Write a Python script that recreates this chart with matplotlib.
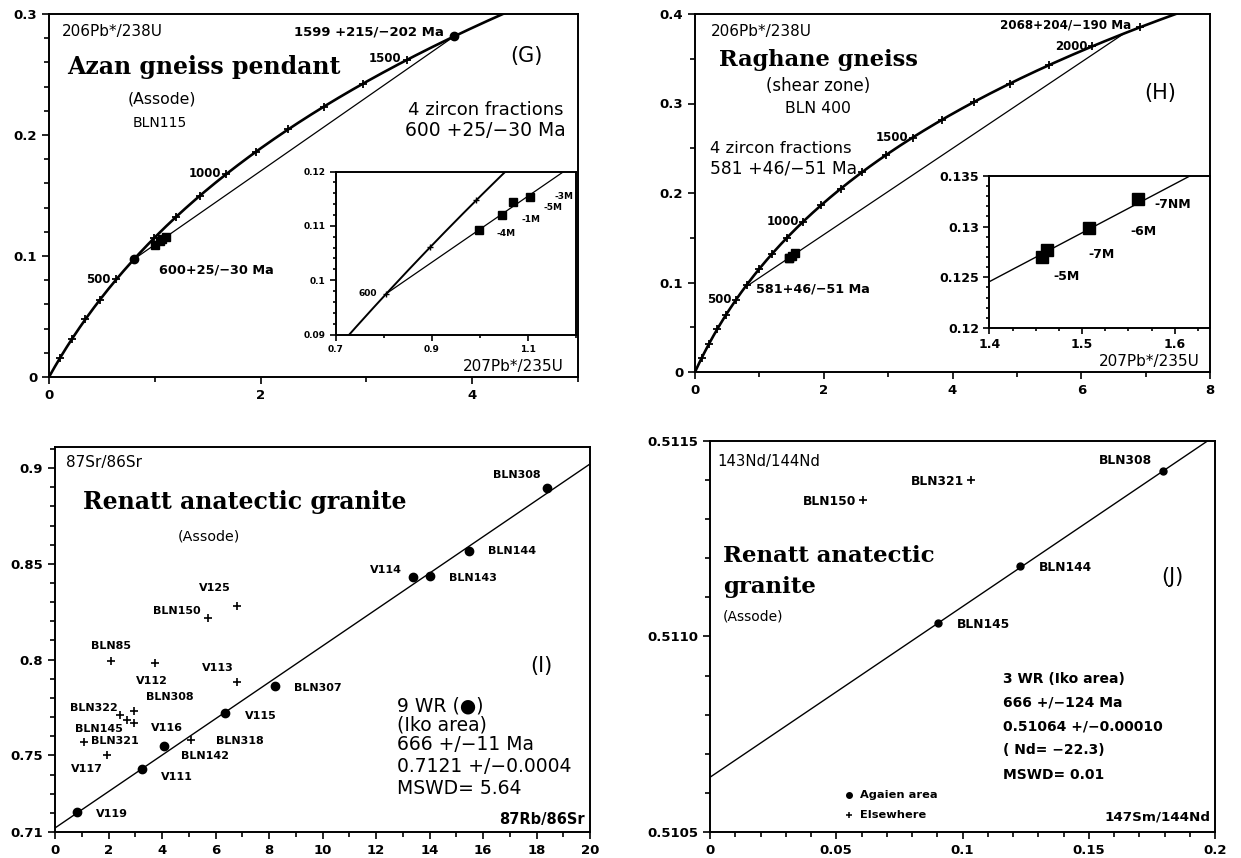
import numpy as np
import matplotlib
matplotlib.use("Agg")
import matplotlib.pyplot as plt
from matplotlib.ticker import MultipleLocator, FixedLocator, FixedFormatter

plt.rcParams['font.family'] = ['DejaVu Sans']
plt.rcParams['axes.linewidth'] = 1.4

# ---------------- data ----------------
# decay constants (per year)
LAMBDA_238 = 1.55125e-10
LAMBDA_235 = 9.8485e-10
LAMBDA_RB = 1.42e-11
LAMBDA_SM = 6.54e-12

# panel G (Azan gneiss pendant)
G_tick_ages = [100, 200, 300, 400, 500, 600, 700, 800, 900, 1000, 1100, 1200, 1300, 1400, 1500, 1600]
G_lower_age = 600
G_upper_age = 1599
G_x = [0.998, 1.047, 1.069, 1.104]
G_y = [0.1093, 0.1120, 0.1144, 0.1154]
G_labels = ["-4M", "-1M", "-5M", "-3M"]
G_inset_ticks = [600, 650, 700]

# panel H (Raghane gneiss)
H_tick_ages = [100, 200, 300, 400, 500, 600, 700, 800, 900, 1000, 1100, 1200, 1300, 1400, 1500,
               1600, 1700, 1800, 1900, 2000, 2100]
H_lower_age = 581
H_upper_age = 2068
H_x = [1.4566, 1.4617, 1.5077, 1.5604]
H_y = [0.1270, 0.1277, 0.1299, 0.1327]
H_labels = ["-5M", "-7M", "-6M", "-7NM"]

# panel I (Rb-Sr)
I_wr_names = ["V119", "V111", "BLN142", "V115", "BLN307", "V114", "BLN143", "BLN144", "BLN308"]
I_wr_x = [0.82, 3.25, 4.07, 6.37, 8.21, 13.38, 14.00, 15.46, 18.38]
I_wr_y = [0.7207, 0.7431, 0.7549, 0.7721, 0.7864, 0.8429, 0.8438, 0.8569, 0.8897]
I_other_names = ["BLN85", "V112", "V125", "BLN150", "V113", "BLN322", "BLN308", "BLN145", "V116",
                 "BLN321", "V117", "BLN318"]
I_other_x = [2.10, 3.72, 6.82, 5.72, 6.79, 2.44, 2.97, 2.71, 2.97, 1.09, 1.95, 5.09]
I_other_y = [0.7993, 0.7980, 0.8279, 0.8218, 0.7885, 0.7712, 0.7731, 0.7686, 0.7671, 0.7568, 0.7502, 0.7581]
I_age = 666
I_initial = 0.7121

# panel J (Sm-Nd)
J_wr_names = ["BLN145", "BLN144", "BLN308"]
J_wr_x = [0.0901, 0.1226, 0.1795]
J_wr_y = [0.511034, 0.511180, 0.511424]
J_other_names = ["BLN150", "BLN321"]
J_other_x = [0.0606, 0.1033]
J_other_y = [0.511349, 0.511400]
J_age = 666
J_initial = 0.51064

# ---------------- helpers ----------------
def conc(age_ma):
    t = np.asarray(age_ma, dtype=float) * 1e6
    return np.exp(LAMBDA_235 * t) - 1, np.exp(LAMBDA_238 * t) - 1

W, H = 1241, 858
fig = plt.figure(figsize=(W / 100, H / 100), dpi=100)

def ax_px(l, r, t, b):
    return fig.add_axes([l / W, 1 - b / H, (r - l) / W, (b - t) / H])

LAB = dict(fontsize=8, fontweight='bold')
TICKLAB = 9.5

def style(ax, size=TICKLAB):
    ax.tick_params(which='both', direction='out', width=1.2, labelsize=size)
    ax.tick_params(which='major', length=5)
    ax.tick_params(which='minor', length=3.5)
    for lab in ax.get_xticklabels() + ax.get_yticklabels():
        lab.set_fontweight('bold')

def serif(size):
    return dict(family=['DejaVu Serif'], fontweight='bold', fontsize=size)

def conc_panel(ax, tick_ages, lower, upper, xs, ys, tmax):
    ages = np.linspace(0, tmax, 500)
    cx, cy = conc(ages)
    ax.plot(cx, cy, color='black', lw=1.9, zorder=3)
    tx, ty = conc(tick_ages)
    ax.plot(tx, ty, ls='none', marker='+', ms=6, mew=1.3, color='black', zorder=4)
    lx, ly = conc([lower, upper])
    ax.plot(lx, ly, color='black', lw=0.9, zorder=2)
    ax.plot(xs, ys, ls='none', marker='s', ms=6, color='black', zorder=5)
    return lx, ly

# ================= Panel G =================
axG = ax_px(49, 578, 14, 377)
axG.set_xlim(0, 5)
axG.set_ylim(0, 0.3)
lx, ly = conc_panel(axG, G_tick_ages, G_lower_age, G_upper_age, G_x, G_y, 1800)
axG.plot(lx, ly, ls='none', marker='o', ms=6, color='black', zorder=5)
axG.xaxis.set_major_locator(FixedLocator([0, 2, 4]))
axG.xaxis.set_major_formatter(FixedFormatter(["0", "2", "4"]))
axG.xaxis.set_minor_locator(MultipleLocator(1))
axG.yaxis.set_major_locator(FixedLocator([0, 0.1, 0.2, 0.3]))
axG.yaxis.set_major_formatter(FixedFormatter(["0", "0.1", "0.2", "0.3"]))
axG.yaxis.set_minor_locator(MultipleLocator(0.02))
style(axG)
axG.text(0.024, 0.951, "206Pb*/238U", transform=axG.transAxes, fontsize=11, va='center')
axG.text(0.035, 0.855, "Azan gneiss pendant", transform=axG.transAxes, va='center', **serif(17))
axG.text(0.214, 0.765, "(Assode)", transform=axG.transAxes, fontsize=11.3, ha='center', va='center')
axG.text(0.210, 0.700, "BLN115", transform=axG.transAxes, fontsize=10, ha='center', va='center')
axG.text(0.903, 0.883, "(G)", transform=axG.transAxes, fontsize=15, ha='center', va='center')
axG.text(0.825, 0.736, "4 zircon fractions", transform=axG.transAxes, fontsize=13, ha='center', va='center')
axG.text(0.825, 0.678, "600 +25/\u221230 Ma", transform=axG.transAxes, fontsize=13.5, ha='center', va='center')
axG.text(0.605, 0.951, "1599 +215/\u2212202 Ma", transform=axG.transAxes, ha='center', va='center',
         fontsize=9.5, fontweight='bold')
axG.text(0.974, 0.03, "207Pb*/235U", transform=axG.transAxes, fontsize=11, ha='right', va='center')
for age, dx, dy in [(500, -4, 0), (1000, -4, 0), (1500, -4, 1)]:
    px, py = conc(age)
    axG.annotate(str(age), (px, py), xytext=(dx, dy), textcoords='offset points',
                 ha='right', va='center', fontsize=8.5, fontweight='bold')
axG.annotate("600+25/\u221230 Ma", conc(G_lower_age), xytext=(18, -8), textcoords='offset points',
             ha='left', va='center', fontsize=9.3, fontweight='bold')

# inset G
inG = axG.inset_axes([0.542, 0.117, 0.454, 0.449])
inG.set_xlim(0.7, 1.2)
inG.set_ylim(0.09, 0.12)
ages = np.linspace(500, 800, 300)
cx, cy = conc(ages)
inG.plot(cx, cy, color='black', lw=1.4)
tx, ty = conc(G_inset_ticks)
inG.plot(tx, ty, ls='none', marker='+', ms=4, mew=1, color='black')
lxi, lyi = conc([G_lower_age, G_upper_age])
inG.plot(lxi, lyi, color='black', lw=0.9)
inG.plot(G_x, G_y, ls='none', marker='s', ms=6, color='black')
offs = [(13, -3), (14, -3), (22, -4), (18, 0)]
for x, y, name, (dx, dy) in zip(G_x, G_y, G_labels, offs):
    inG.annotate(name, (x, y), xytext=(dx, dy), textcoords='offset points',
                 ha='left', va='center', fontsize=6.5, fontweight='bold')
inG.annotate("600", conc(G_lower_age), xytext=(-7, 0), textcoords='offset points',
             ha='right', va='center', fontsize=6.5, fontweight='bold')
inG.xaxis.set_major_locator(FixedLocator([0.7, 0.9, 1.1]))
inG.xaxis.set_major_formatter(FixedFormatter(["0.7", "0.9", "1.1"]))
inG.xaxis.set_minor_locator(MultipleLocator(0.1))
inG.yaxis.set_major_locator(FixedLocator([0.09, 0.1, 0.11, 0.12]))
inG.yaxis.set_major_formatter(FixedFormatter(["0.09", "0.1", "0.11", "0.12"]))
inG.yaxis.set_minor_locator(MultipleLocator(0.002))
style(inG, size=6.5)
inG.tick_params(which='major', length=4)
inG.tick_params(which='minor', length=2)

# ================= Panel H =================
axH = ax_px(695, 1210, 14, 372)
axH.set_xlim(0, 8)
axH.set_ylim(0, 0.4)
conc_panel(axH, H_tick_ages, H_lower_age, H_upper_age, H_x, H_y, 2300)
axH.xaxis.set_major_locator(FixedLocator([0, 2, 4, 6, 8]))
axH.xaxis.set_major_formatter(FixedFormatter(["0", "2", "4", "6", "8"]))
axH.xaxis.set_minor_locator(MultipleLocator(1))
axH.yaxis.set_major_locator(FixedLocator([0, 0.1, 0.2, 0.3, 0.4]))
axH.yaxis.set_major_formatter(FixedFormatter(["0", "0.1", "0.2", "0.3", "0.4"]))
axH.yaxis.set_minor_locator(MultipleLocator(0.05))
style(axH)
axH.text(0.128, 0.951, "206Pb*/238U", transform=axH.transAxes, fontsize=11, ha='center', va='center')
axH.text(0.239, 0.872, "Raghane gneiss", transform=axH.transAxes, ha='center', va='center', **serif(16.2))
axH.text(0.239, 0.799, "(shear zone)", transform=axH.transAxes, fontsize=12, ha='center', va='center')
axH.text(0.239, 0.737, "BLN 400", transform=axH.transAxes, fontsize=11.3, ha='center', va='center')
axH.text(0.03, 0.625, "4 zircon fractions", transform=axH.transAxes, fontsize=11.8, ha='left', va='center')
axH.text(0.03, 0.569, "581 +46/\u221251 Ma", transform=axH.transAxes, fontsize=12.3, ha='left', va='center')
axH.text(0.904, 0.78, "(H)", transform=axH.transAxes, fontsize=15, ha='center', va='center')
axH.text(0.72, 0.97, "2068+204/\u2212190 Ma", transform=axH.transAxes, ha='center', va='center',
         fontsize=8.6, fontweight='bold')
axH.text(0.981, 0.03, "207Pb*/235U", transform=axH.transAxes, fontsize=11, ha='right', va='center')
for age in [500, 1000, 1500, 2000]:
    px, py = conc(age)
    axH.annotate(str(age), (px, py), xytext=(-3, 0), textcoords='offset points',
                 ha='right', va='center', fontsize=8.5, fontweight='bold')
axH.annotate("581+46/\u221251 Ma", conc(H_lower_age), xytext=(8, -1), textcoords='offset points',
             ha='left', va='center', fontsize=9.2, fontweight='bold')

inH = axH.inset_axes([0.5715, 0.123, 0.4285, 0.425])
inH.set_xlim(1.4, 1.638)
inH.set_ylim(0.12, 0.135)
lxi, lyi = conc([H_lower_age, H_upper_age])
inH.plot(lxi, lyi, color='black', lw=1.0)
inH.plot(H_x, H_y, ls='none', marker='s', ms=8, color='black')
offs = [(8, -14), (30, -3), (30, -3), (12, -4)]
for x, y, name, (dx, dy) in zip(H_x, H_y, H_labels, offs):
    inH.annotate(name, (x, y), xytext=(dx, dy), textcoords='offset points',
                 ha='left', va='center', fontsize=9, fontweight='bold')
inH.xaxis.set_major_locator(FixedLocator([1.4, 1.5, 1.6]))
inH.xaxis.set_major_formatter(FixedFormatter(["1.4", "1.5", "1.6"]))
inH.xaxis.set_minor_locator(MultipleLocator(0.025))
inH.yaxis.set_major_locator(FixedLocator([0.12, 0.125, 0.13, 0.135]))
inH.yaxis.set_major_formatter(FixedFormatter(["0.12", "0.125", "0.13", "0.135"]))
inH.yaxis.set_minor_locator(MultipleLocator(0.001))
style(inH, size=9)
inH.tick_params(which='major', length=4)
inH.tick_params(which='minor', length=2)

# ================= Panel I =================
axI = ax_px(55, 590, 447, 832)
axI.set_xlim(0, 20)
axI.set_ylim(0.71, 0.911)
slopeI = np.exp(LAMBDA_RB * I_age * 1e6) - 1
xl = np.array([0, 20])
axI.plot(xl, I_initial + slopeI * xl, color='black', lw=1.0)
axI.plot(I_wr_x, I_wr_y, ls='none', marker='o', ms=6, color='black')
axI.plot(I_other_x, I_other_y, ls='none', marker='+', ms=6, mew=1.2, color='black')
I_wr_off = {"V119": (14, -2, 'left'), "V111": (14, -6, 'left'), "BLN142": (12, -7, 'left'),
            "V115": (14, -2, 'left'), "BLN307": (14, -2, 'left'), "V114": (-8, 5, 'right'),
            "BLN143": (14, -2, 'left'), "BLN144": (14, 0, 'left'), "BLN308": (-4, 9, 'right')}
for x, y, n in zip(I_wr_x, I_wr_y, I_wr_names):
    dx, dy, ha = I_wr_off[n]
    axI.annotate(n, (x, y), xytext=(dx, dy), textcoords='offset points', ha=ha, va='center', **LAB)
I_ot_off = {"BLN85": (0, 11, 'center'), "V112": (-2, -13, 'center'), "V125": (-5, 13, 'right'),
            "BLN150": (-5, 5, 'right'), "V113": (-2, 10, 'right'), "BLN322": (-2, 5, 'right'),
            "BLN308": (8, 10, 'left'), "BLN145": (-3, -7, 'right'), "V116": (12, -4, 'left'),
            "BLN321": (5, 1, 'left'), "V117": (-3, -10, 'right'), "BLN318": (18, -1, 'left')}
for x, y, n in zip(I_other_x, I_other_y, I_other_names):
    dx, dy, ha = I_ot_off[n]
    axI.annotate(n, (x, y), xytext=(dx, dy), textcoords='offset points', ha=ha, va='center', **LAB)
axI.xaxis.set_major_locator(MultipleLocator(2))
axI.xaxis.set_minor_locator(MultipleLocator(1))
axI.yaxis.set_major_locator(FixedLocator([0.71, 0.75, 0.8, 0.85, 0.9]))
axI.yaxis.set_major_formatter(FixedFormatter(["0.71", "0.75", "0.8", "0.85", "0.9"]))
axI.yaxis.set_minor_locator(MultipleLocator(0.01))
style(axI)
axI.text(0.02, 0.96, "87Sr/86Sr", transform=axI.transAxes, fontsize=11, ha='left', va='center')
axI.text(0.052, 0.858, "Renatt anatectic granite", transform=axI.transAxes, ha='left', va='center', **serif(17))
axI.text(0.288, 0.768, "(Assode)", transform=axI.transAxes, fontsize=10.3, ha='center', va='center')
axI.text(0.91, 0.432, "(I)", transform=axI.transAxes, fontsize=15, ha='center', va='center')
for yy, s in [(0.328, "9 WR (\u25CF)"), (0.277, "(Iko area)"), (0.226, "666 +/\u221211 Ma"),
              (0.17, "0.7121 +/\u22120.0004"), (0.114, "MSWD= 5.64")]:
    axI.text(0.64, yy, s, transform=axI.transAxes, fontsize=13.5, ha='left', va='center')
axI.text(0.99, 0.033, "87Rb/86Sr", transform=axI.transAxes, fontsize=10.5, fontweight='bold',
         ha='right', va='center')

# ================= Panel J =================
axJ = ax_px(710, 1215, 441, 832)
axJ.set_xlim(0, 0.2)
axJ.set_ylim(0.5105, 0.5115)
slopeJ = np.exp(LAMBDA_SM * J_age * 1e6) - 1
xl = np.array([0, 0.2])
axJ.plot(xl, J_initial + slopeJ * xl, color='black', lw=1.0)
axJ.plot(J_wr_x, J_wr_y, ls='none', marker='o', ms=5, color='black')
axJ.plot(J_other_x, J_other_y, ls='none', marker='+', ms=6, mew=1.2, color='black')
J_wr_off = {"BLN145": (14, -1, 'left'), "BLN144": (14, -1, 'left'), "BLN308": (-8, 7, 'right')}
for x, y, n in zip(J_wr_x, J_wr_y, J_wr_names):
    dx, dy, ha = J_wr_off[n]
    axJ.annotate(n, (x, y), xytext=(dx, dy), textcoords='offset points', ha=ha, va='center',
                 fontsize=8.8, fontweight='bold')
for x, y, n in zip(J_other_x, J_other_y, J_other_names):
    axJ.annotate(n, (x, y), xytext=(-5, -1), textcoords='offset points', ha='right', va='center',
                 fontsize=8.8, fontweight='bold')
axJ.xaxis.set_major_locator(FixedLocator([0, 0.05, 0.1, 0.15, 0.2]))
axJ.xaxis.set_major_formatter(FixedFormatter(["0", "0.05", "0.1", "0.15", "0.2"]))
axJ.xaxis.set_minor_locator(MultipleLocator(0.01))
axJ.yaxis.set_major_locator(FixedLocator([0.5105, 0.5110, 0.5115]))
axJ.yaxis.set_major_formatter(FixedFormatter(["0.5105", "0.5110", "0.5115"]))
axJ.yaxis.set_minor_locator(MultipleLocator(0.0001))
style(axJ)
axJ.text(0.015, 0.947, "143Nd/144Nd", transform=axJ.transAxes, fontsize=10.7, ha='left', va='center')
axJ.text(0.025, 0.705, "Renatt anatectic", transform=axJ.transAxes, ha='left', va='center', **serif(16.5))
axJ.text(0.025, 0.626, "granite", transform=axJ.transAxes, ha='left', va='center', **serif(16.5))
axJ.text(0.025, 0.551, "(Assode)", transform=axJ.transAxes, fontsize=10, ha='left', va='center')
axJ.text(0.915, 0.651, "(J)", transform=axJ.transAxes, fontsize=15, ha='center', va='center')
for yy, s in [(0.391, "3 WR (Iko area)"), (0.33, "666 +/\u2212124 Ma"), (0.269, "0.51064 +/\u22120.00010"),
              (0.209, "( Nd= \u221222.3)"), (0.146, "MSWD= 0.01")]:
    axJ.text(0.58, yy, s, transform=axJ.transAxes, fontsize=10, fontweight='bold', ha='left', va='center')
axJ.plot([0.275], [0.095], transform=axJ.transAxes, marker='o', ms=4, color='black', ls='none')
axJ.plot([0.275], [0.044], transform=axJ.transAxes, marker='+', ms=5, mew=1.1, color='black', ls='none')
axJ.text(0.298, 0.095, "Agaien area", transform=axJ.transAxes, fontsize=8.2, fontweight='bold', ha='left', va='center')
axJ.text(0.298, 0.044, "Elsewhere", transform=axJ.transAxes, fontsize=8.2, fontweight='bold', ha='left', va='center')
axJ.text(0.99, 0.039, "147Sm/144Nd", transform=axJ.transAxes, fontsize=9.7, fontweight='bold', ha='right', va='center')

fig.savefig("out.png", dpi=100)
